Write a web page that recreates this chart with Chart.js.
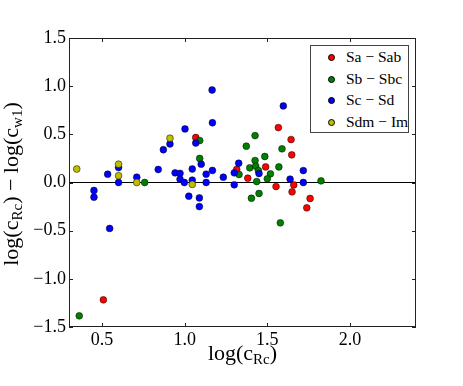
<!DOCTYPE html>
<html>
<head>
<meta charset="utf-8">
<script src="https://cdn.jsdelivr.net/npm/chart.js@4"></script>
<style>
  body { margin: 0; background: #fff; }
  #wrap { position: relative; width: 463px; height: 386px; font-family: 'Liberation Serif', serif; color: #000; }
  #chart { position: absolute; left: 0; top: 0; }
  .title { position: absolute; font-size: 22px; line-height: 24px; text-align: center; white-space: nowrap; }
  .title sub { font-size: 15px; vertical-align: -4px; line-height: 0; }
  #xtitle { left: 69px; width: 347px; top: 341px; }
  #ytitle { left: -139px; top: 172px; width: 300px; height: 24px; transform: rotate(-90deg); }
  #legend { position: absolute; left: 310px; top: 45px; width: 97px; height: 86px; border: 1px solid #444; background: #fff; }
  .row { position: relative; height: 21.6px; font-size: 15.5px; line-height: 21.6px; white-space: nowrap; }
  .row span.dot { position: absolute; left: 17px; top: 8px; width: 5px; height: 5px; border-radius: 50%; border: 0.5px solid #000; }
  .row span.txt { position: absolute; left: 35px; top: 0; }
</style>
</head>
<body>
<div id="wrap">
  <canvas id="chart" width="463" height="386"></canvas>
  <div id="xtitle" class="title">log(c<sub>Rc</sub>)</div>
  <div id="ytitle" class="title">log(c<sub>Rc</sub>) − log(c<sub>w1</sub>)</div>
  <div id="legend"></div>
</div>
<script>
// Datos
const saX = [1.067, 0.508, 1.567, 1.644, 1.648, 1.49, 1.315, 1.382, 1.553, 1.66, 1.65, 1.759, 1.739];
const saY = [0.467, -1.218, 0.57, 0.446, 0.287, 0.162, 0.135, 0.045, -0.042, -0.025, -0.097, -0.166, -0.263];

const sbX = [0.362, 0.758, 1.091, 1.091, 1.426, 1.373, 1.589, 1.485, 1.426, 1.394, 1.43, 1.57, 1.446, 1.329, 1.519, 1.50, 1.436, 1.825, 1.404, 1.45, 1.579];
const sbY = [-1.384, 0.0, 0.435, 0.25, 0.487, 0.377, 0.35, 0.27, 0.228, 0.152, 0.17, 0.162, 0.124, 0.083, 0.09, 0.038, 0.01, 0.017, -0.163, -0.114, -0.419];

const scX = [0.60, 0.60, 0.534, 0.71, 0.84, 0.871, 0.911, 1.002, 1.067, 1.10, 1.166, 1.168, 1.168, 0.942, 0.972, 0.972, 0.998, 1.046, 1.046, 1.13, 1.13, 1.234, 0.451, 0.451, 0.546, 1.025, 1.089, 1.089, 1.597, 1.327, 1.30, 1.45, 1.638, 1.718, 1.30, 1.718];
const scY = [0.155, 0.0, 0.086, 0.055, 0.135, 0.34, 0.40, 0.556, 0.41, 0.19, 0.96, 0.62, 0.125, 0.10, 0.095, 0.035, 0.0, 0.14, 0.025, 0.086, 0.0, 0.055, -0.083, -0.152, -0.477, -0.142, -0.16, -0.25, 0.795, 0.2, 0.10, 0.093, 0.035, 0.124, -0.024, 0.0];

const sdX = [0.347, 0.60, 0.60, 0.71, 0.911, 1.046];
const sdY = [0.14, 0.19, 0.07, 0.0, 0.46, -0.02];

const labels = ['Sa − Sab', 'Sb − Sbc', 'Sc − Sd', 'Sdm − Im'];
const colors = ['#ff0000', '#008000', '#0000ff', '#bfbf00'];
const xTicks = [0.5, 1.0, 1.5, 2.0];

// Junta x e y en puntos
function points(xs, ys){
    return xs.map((x, i) => ({ x: x, y: ys[i] }));
}

const series = [points(saX, saY), points(sbX, sbY), points(scX, scY), points(sdX, sdY)];

// Leyenda en HTML
const legend = document.getElementById('legend');
labels.forEach((l, i) => {
    legend.innerHTML += `<div class="row"><span class="dot" style="background:${colors[i]}"></span><span class="txt">${l}</span></div>`;
});

// Marco y marcas hacia adentro, como matplotlib
const framePlugin = {
    id: 'frame',
    afterDraw(chart){
        const c = chart.ctx;
        const a = chart.chartArea;
        const xs = chart.scales.x;
        const ys = chart.scales.y;
        c.save();
        c.strokeStyle = '#222';
        c.lineWidth = 1;
        c.strokeRect(a.left + 0.5, a.top + 0.5, a.right - a.left - 1, a.bottom - a.top - 1);
        c.beginPath();
        xs.ticks.forEach(t => {
            const px = Math.round(xs.getPixelForValue(t.value)) + 0.5;
            c.moveTo(px, a.bottom); c.lineTo(px, a.bottom - 4);
            c.moveTo(px, a.top); c.lineTo(px, a.top + 4);
        });
        ys.ticks.forEach(t => {
            const py = Math.round(ys.getPixelForValue(t.value)) + 0.5;
            c.moveTo(a.left, py); c.lineTo(a.left + 4, py);
            c.moveTo(a.right, py); c.lineTo(a.right - 4, py);
        });
        c.stroke();
        c.restore();
    }
};

const tickFont = { family: "'Liberation Serif', serif", size: 18 };

new Chart(document.getElementById('chart'), {
    type: 'scatter',
    data: {
        datasets: series.map((s, i) => ({
            label: labels[i],
            data: s,
            backgroundColor: colors[i],
            borderColor: '#000',
            borderWidth: 0.5,
            pointRadius: 3.4,
            order: 4 - i
        }))
    },
    options: {
        responsive: false,
        animation: false,
        devicePixelRatio: 1,
        layout: { padding: { top: 38, right: 47, left: 0, bottom: 0 } },
        plugins: { legend: { display: false }, tooltip: { enabled: false } },
        scales: {
            x: {
                type: 'linear',
                min: 0.3,
                max: 2.4,
                afterBuildTicks: s => { s.ticks = xTicks.map(v => ({ value: v })); },
                afterFit: s => { s.height = 59; },
                ticks: {
                    font: tickFont,
                    color: '#000',
                    padding: 2,
                    maxRotation: 0,
                    autoSkip: false,
                    callback: v => v.toFixed(1)
                },
                grid: { display: false, drawTicks: false },
                border: { display: false }
            },
            y: {
                min: -1.5,
                max: 1.5,
                afterFit: s => { s.width = 69; },
                ticks: {
                    font: tickFont,
                    color: '#000',
                    padding: 3,
                    stepSize: 0.5,
                    callback: v => Math.abs(v) < 1e-9 ? '0.0' : v.toFixed(1).replace('-', '−')
                },
                grid: {
                    drawTicks: false,
                    lineWidth: 1,
                    color: c => (c.tick && Math.abs(c.tick.value) < 1e-9) ? '#000' : 'rgba(0,0,0,0)'
                },
                border: { display: false }
            }
        }
    },
    plugins: [framePlugin]
});
</script>
</body>
</html>
